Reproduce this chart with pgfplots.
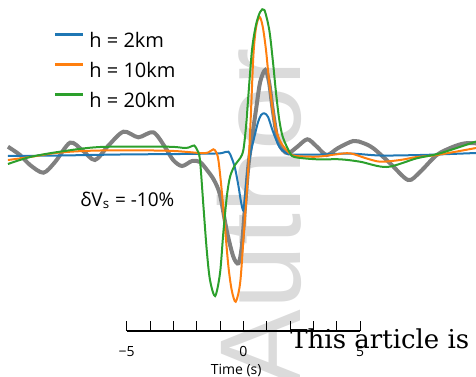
\documentclass[border=0pt]{standalone}
\usepackage{fontspec}
\setmainfont{Open Sans}
\newfontfamily\wmserif{DejaVu Serif}
\newfontfamily\wmsans{Liberation Sans}
\usepackage{pgfplots}
\usepackage{pgfplotstable}
\pgfplotsset{compat=1.18}
\definecolor{cblue}{HTML}{1F77B4}
\definecolor{corange}{HTML}{FF7F0E}
\definecolor{cgreen}{HTML}{2CA02C}
\definecolor{cgray}{HTML}{808080}

\pgfplotstableread{
t y
-10.09 8.3
-9.57 0
-9.14 -10
-8.57 -17.7
-8.07 -7
-7.43 12.3
-6.91 5
-6.36 -5
-5.80 9
-5.14 23.3
-4.50 17.7
-3.86 22.7
-3.36 8
-3.01 -5
-2.63 -11
-2.20 -6
-1.86 -7
-1.56 -15
-1.26 -25
-1.00 -40
-0.71 -76
-0.43 -101.7
-0.21 -108.3
-0.07 -92
0.07 -52
0.21 -12
0.36 15
0.54 45
0.72 73
0.94 85
1.10 73
1.26 45
1.47 15
1.69 5
1.93 1.7
2.30 8
2.74 15.7
3.12 9
3.57 0
4.06 7
4.71 14
5.13 12
5.57 6.7
6.29 -8.3
7.06 -25
7.57 -17
8.29 0
9.00 8.3
9.50 11.7
9.97 11.7
}\obsdata

\pgfplotstableread{
t y
-10.09 -1
-7.86 -0.5
-5.29 0.5
-2.71 1
-1.21 1.5
-0.91 2
-0.64 3.3
-0.50 -3
-0.36 -13
-0.21 -31
-0.10 -47
0 -55.5
0.07 -42
0.16 -20
0.29 0
0.46 17
0.63 33
0.76 40
0.90 41.7
1.06 38
1.26 24
1.54 8.3
1.83 2
2.09 0.5
3.29 0.5
4.57 1.5
5.86 -0.5
7.57 0
8.86 1
9.97 2
}\bluedata

\pgfplotstableread{
t y
-10.09 -5
-9.14 -2
-7.86 2.5
-6.14 4.5
-3.27 4.3
-1.86 2
-1.51 2.5
-1.29 5.7
-1.17 3
-1.07 -5
-0.93 -35
-0.78 -75
-0.64 -111.7
-0.50 -135
-0.33 -146.7
-0.14 -128.3
0 -85
0.15 -35
0.24 -1
0.33 45
0.43 100
0.54 127
0.69 138.3
0.83 128.3
0.97 105
1.11 72
1.26 45
1.40 25
1.62 12
1.97 2
2.26 -1
3.15 -1.7
3.93 0.5
4.57 1.7
5.22 -3
5.86 -6.7
6.72 -5
7.43 -2
8.29 0
9.97 7
}\orangedata

\pgfplotstableread{
t y
-10.09 -9
-9.14 -2
-7.86 3.3
-6.14 8
-3.27 8.3
-2.50 7
-2.29 8
-2.11 9.5
-1.98 5
-1.86 -5
-1.71 -51.7
-1.57 -95
-1.43 -125
-1.21 -141
-1.00 -118
-0.86 -78
-0.71 -41.7
-0.57 -21.7
-0.36 -10
-0.14 -3.3
0 5
0.12 30
0.20 55
0.37 105
0.54 130
0.72 143
0.90 145
1.11 125
1.26 95
1.40 62
1.54 35
1.69 18
1.97 3.3
2.19 -2
3.15 -4.3
4.14 -4.3
5.00 -6.7
6.15 -12
7.43 -3.3
8.43 1.7
9.97 13.5
}\greendata

\begin{document}
\begin{tikzpicture}
\path[use as bounding box] (0pt,0pt) rectangle (238pt,188pt);
\node[rotate=90, anchor=base west, inner sep=0pt, text=black!14,
      font=\wmsans\fontsize{57.5pt}{60pt}\selectfont] at (150pt,-5.5pt) {Author};

\begin{axis}[
  at={(0pt,0pt)}, anchor=south west,
  scale only axis, width=238pt, height=188pt,
  xmin=-10.43, xmax=9.97, ymin=-221, ymax=155,
  hide axis,
  legend style={at={(axis cs:-8.14,123)}, anchor=north west, draw=none, fill=none,
    font=\fontsize{10pt}{11pt}\selectfont, row sep=5.9pt, inner sep=0pt,
    nodes={inner sep=0pt, inner xsep=2.2pt}},
  legend cell align=left,
  legend image code/.code={\draw[#1, line width=1.6pt] (0pt,3.6pt) -- (14pt,3.6pt);},
]
\addplot[cgray, line width=2pt, smooth, tension=0.5, forget plot] table[x=t,y=y] {\obsdata};
\addplot[cblue, line width=1pt, smooth, tension=0.5] table[x=t,y=y] {\bluedata};
\addplot[corange, line width=1pt, smooth, tension=0.5] table[x=t,y=y] {\orangedata};
\addplot[cgreen, line width=1pt, smooth, tension=0.5] table[x=t,y=y] {\greendata};
\legend{h = 2km, h = 10km, h = 20km}
\node[anchor=base west, inner sep=0pt, font=\fontsize{9.5pt}{10pt}\selectfont]
  at (axis cs:-7.0,-51) {δV\textsubscript{s} = -10\%};
\end{axis}

\begin{axis}[
  at={(63.35pt,22.65pt)}, anchor=south west,
  scale only axis, width=116.65pt, height=5pt,
  xmin=-5, xmax=5, ymin=0, ymax=1,
  axis x line*=bottom, hide y axis,
  axis line style={black, line width=1pt, -},
  xtick={-5,-4,...,5},
  xticklabels={−5,,,,,0,,,,,5},
  tick align=inside, major tick length=5pt,
  xtick style={black, line width=0.5pt},
  x tick label style={font=\fontsize{7pt}{7.5pt}\selectfont, yshift=-4.5pt},
  xlabel={Time (s)},
  xlabel style={font=\fontsize{7pt}{8pt}\selectfont, xshift=-3.6pt, yshift=3.5pt},
]
\end{axis}

\node[anchor=base west, inner sep=0pt, font=\wmserif\fontsize{13pt}{15pt}\selectfont]
  at (145pt,13.85pt) {This article is};
\end{tikzpicture}
\end{document}
